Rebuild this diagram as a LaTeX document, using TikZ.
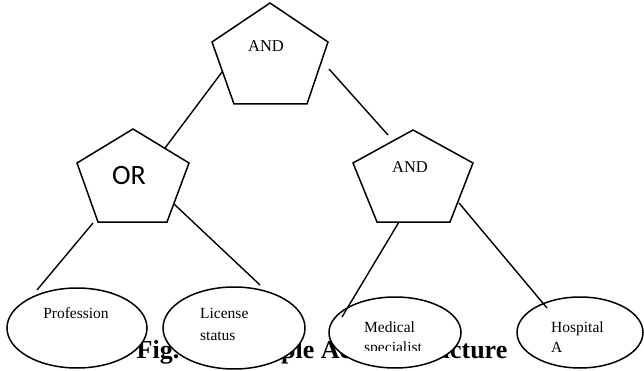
\documentclass[tikz,border=0pt]{standalone}
\usepackage{fontspec}
\setmainfont{Liberation Serif}
\newfontfamily\calibrifont{Carlito}
\usetikzlibrary{shapes.geometric}
\begin{document}
\begin{tikzpicture}[x=1pt,y=-1pt,
  gate/.style={draw=black, line width=1.5pt, line join=miter},
  leaf/.style={draw=black, fill=white, ellipse, inner sep=0pt, line width=1.5pt},
  conn/.style={draw=black, line width=1.4pt},
  gatetext/.style={font=\fontsize{16.5}{20}\selectfont, anchor=base, inner sep=0pt},
  ortext/.style={font=\calibrifont\fontsize{28}{32}\selectfont, anchor=base, inner sep=0pt},
  leaftext/.style={font=\fontsize{15.5}{20}\selectfont, anchor=base west, inner sep=0pt},
  captext/.style={font=\fontsize{26}{30}\bfseries\selectfont, anchor=base, inner sep=0pt}
]
\useasboundingbox (0,0) rectangle (644,371);

% caption (partly hidden behind the ellipses)
\node[captext] (cap) at (322,358) {Fig. 1. Example Access Structure};

% top AND gate
\coordinate (t1) at (270,3);
\coordinate (t2) at (328,42);
\coordinate (t3) at (307,104);
\coordinate (t4) at (234,104);
\coordinate (t5) at (212,42);
\draw[gate] (t1) -- (t2) -- (t3) -- (t4) -- (t5) -- cycle;
\node[gatetext] (andtop) at (266,52) {AND};

% OR gate
\coordinate (o1) at (133,129);
\coordinate (o2) at (189,163);
\coordinate (o3) at (167,222);
\coordinate (o4) at (98,222);
\coordinate (o5) at (77,163);
\draw[gate] (o1) -- (o2) -- (o3) -- (o4) -- (o5) -- cycle;
\node[ortext] (ortxt) at (129,185) {OR};

% right AND gate
\coordinate (r1) at (413,130);
\coordinate (r2) at (473,163);
\coordinate (r3) at (450,222);
\coordinate (r4) at (377,222);
\coordinate (r5) at (353,163);
\draw[gate] (r1) -- (r2) -- (r3) -- (r4) -- (r5) -- cycle;
\node[gatetext] (andright) at (410,173) {AND};

% leaves
\node[leaf, minimum width=140pt, minimum height=80pt] (prof) at (77,328) {};
\node[leaf, minimum width=142pt, minimum height=82pt] (lic) at (234,328) {};
\node[leaf, minimum width=132pt, minimum height=71pt] (med) at (395,332.5) {};
\node[leaf, minimum width=126pt, minimum height=71pt] (hosp) at (580,332.5) {};

% connector end points
\coordinate (a1) at (222,72);
\coordinate (a2) at (165,148);
\coordinate (b1) at (329,69);
\coordinate (b2) at (388,135);
\coordinate (c1) at (93,223);
\coordinate (c2) at (37,290);
\coordinate (d1) at (174,204);
\coordinate (d2) at (260,285);
\coordinate (e1) at (399,222);
\coordinate (e2) at (342,317);
\coordinate (f1) at (459,203);
\coordinate (f2) at (547,308);

\draw[conn] (a1) -- (a2);
\draw[conn] (b1) -- (b2);
\draw[conn] (c1) -- (c2);
\draw[conn] (d1) -- (d2);
\draw[conn] (e1) -- (e2);
\draw[conn] (f1) -- (f2);

% leaf texts
\node[leaftext, anchor=base] (proftxt) at (76,318) {Profession};
\node[leaftext] (lictxt1) at (200,318) {License};
\node[leaftext] (lictxt2) at (200,340) {status};
\node[leaftext] (medtxt1) at (364,332) {Medical};
\begin{scope}
  \clip (350,300) rectangle (450,350);
  \node[leaftext] (medtxt2) at (364,352) {specialist};
\end{scope}
\node[leaftext] (hosptxt1) at (551,332) {Hospital};
\node[leaftext] (hosptxt2) at (551,352) {A};
\end{tikzpicture}
\end{document}
